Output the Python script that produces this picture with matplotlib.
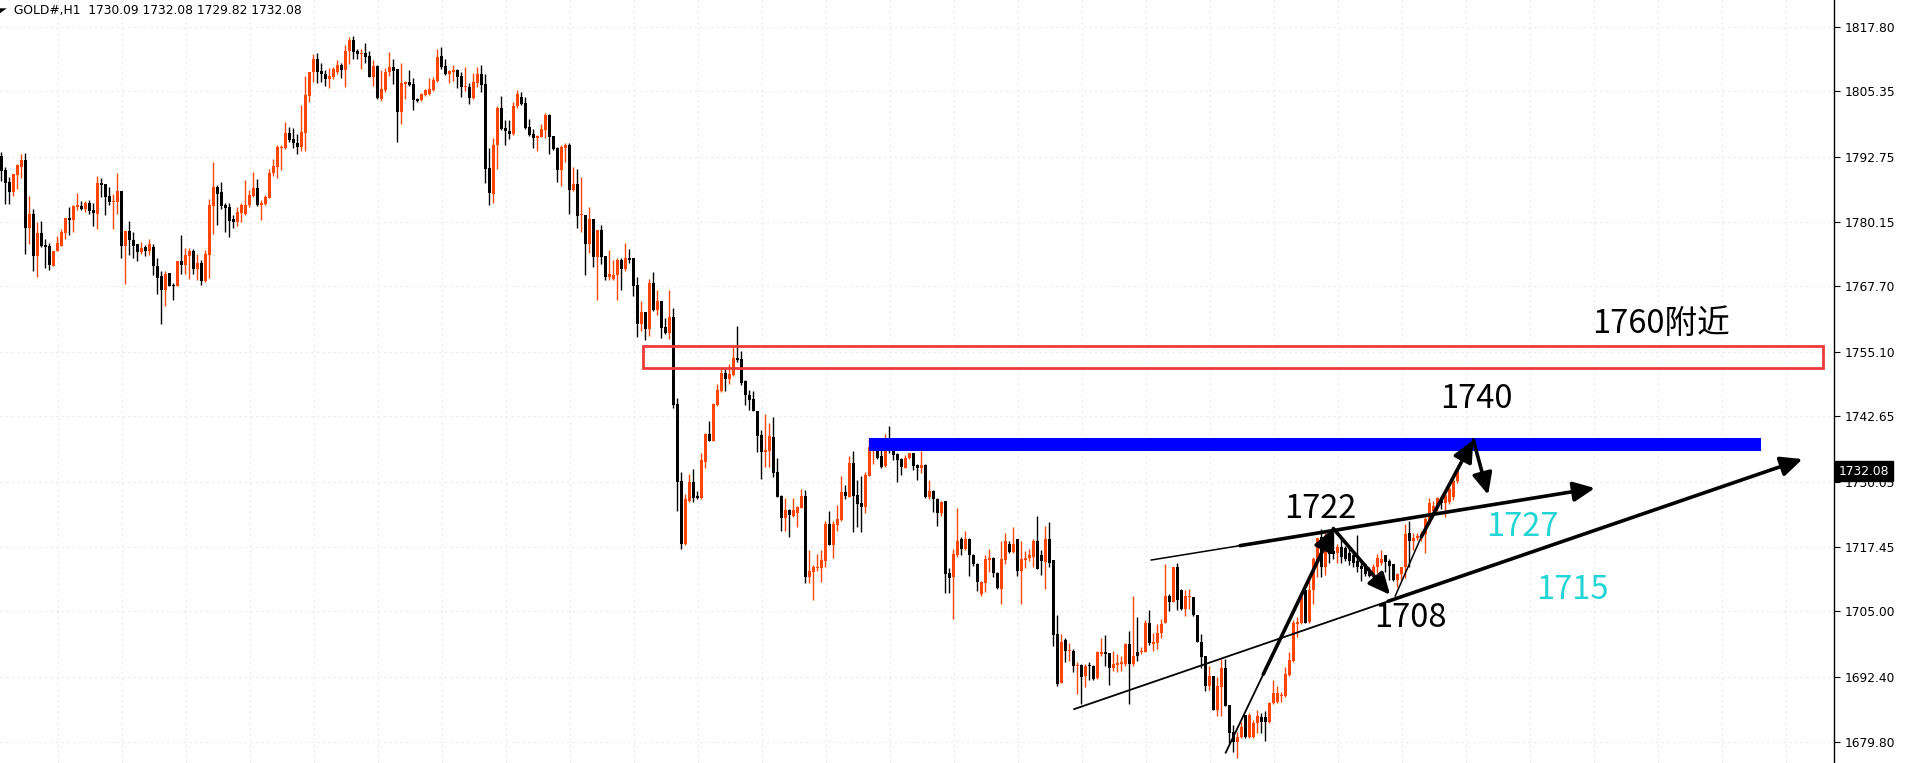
import matplotlib
matplotlib.use("Agg")
import matplotlib.pyplot as plt
from matplotlib.patches import Rectangle, FancyArrowPatch, Polygon
from matplotlib.transforms import blended_transform_factory
import numpy as np

# ---- hourly GOLD# bars (oldest first) ----
opens = [
    1792.9, 1790.2, 1787.9, 1785.9, 1789.3, 1790.8, 1792.1, 1779.0, 1781.7, 1773.5,
    1778.0, 1775.7, 1775.5, 1771.7, 1774.6, 1775.6, 1778.1, 1780.9, 1780.6, 1783.1,
    1783.3, 1782.6, 1783.8, 1782.4, 1781.7, 1787.7, 1787.5, 1785.1, 1784.0, 1784.0,
    1786.1, 1775.6, 1778.4, 1776.7, 1775.9, 1774.4, 1775.3, 1774.6, 1775.3, 1771.7,
    1769.7, 1767.1, 1770.3, 1768.0, 1767.8, 1772.6, 1771.9, 1773.6, 1774.5, 1771.0,
    1772.2, 1768.8, 1773.8, 1783.3, 1786.9, 1785.9, 1783.4, 1783.0, 1780.7, 1780.2,
    1781.9, 1781.7, 1783.4, 1785.2, 1786.7, 1783.5, 1783.6, 1784.8, 1789.5, 1790.8,
    1794.5, 1794.5, 1797.3, 1796.1, 1795.4, 1794.7, 1797.4, 1804.5, 1809.0, 1811.6,
    1809.3, 1808.7, 1807.8, 1808.2, 1809.1, 1810.4, 1809.5, 1813.1, 1815.2, 1813.1,
    1812.6, 1812.8, 1812.2, 1808.2, 1810.2, 1803.9, 1805.6, 1809.0, 1810.0, 1809.6,
    1801.4, 1806.8, 1807.1, 1806.8, 1803.9, 1803.7, 1804.6, 1804.8, 1805.6, 1807.3,
    1812.2, 1810.2, 1808.7, 1809.1, 1809.5, 1808.3, 1806.1, 1806.2, 1804.1, 1807.0,
    1808.7, 1806.8, 1790.5, 1785.6, 1794.9, 1802.1, 1798.3, 1797.7, 1797.2, 1802.5,
    1804.3, 1803.1, 1798.5, 1797.2, 1796.4, 1796.6, 1797.9, 1800.8, 1796.7, 1794.4,
    1790.2, 1794.5, 1795.0, 1786.4, 1787.5, 1781.4, 1781.5, 1775.8, 1780.8, 1773.3,
    1778.5, 1773.6, 1769.6, 1769.1, 1770.0, 1772.9, 1771.1, 1773.1, 1773.1, 1768.0,
    1760.5, 1762.8, 1759.4, 1768.4, 1763.2, 1764.8, 1759.8, 1758.8, 1761.9, 1745.0,
    1730.2, 1718.1, 1726.4, 1730.0, 1727.3, 1726.8, 1733.9, 1739.2, 1737.9, 1744.9,
    1747.6, 1751.0, 1749.9, 1750.7, 1753.9, 1753.7, 1749.5, 1746.8, 1745.9, 1743.7,
    1739.1, 1735.8, 1736.0, 1738.7, 1732.0, 1727.2, 1723.0, 1724.6, 1723.5, 1723.9,
    1725.0, 1727.3, 1711.7, 1712.7, 1713.3, 1713.4, 1714.8, 1721.9, 1717.9, 1721.7,
    1722.7, 1728.1, 1727.1, 1733.7, 1727.5, 1726.0, 1725.2, 1731.2, 1736.6, 1737.0,
    1734.9, 1733.1, 1737.6, 1736.8, 1735.3, 1734.5, 1732.7, 1734.7, 1735.5, 1733.3,
    1732.7, 1733.3, 1727.1, 1728.3, 1726.6, 1723.9, 1726.4, 1712.5, 1711.7, 1715.8,
    1718.9, 1717.1, 1719.0, 1715.8, 1714.2, 1708.4, 1710.4, 1715.0, 1715.4, 1712.5,
    1709.4, 1715.0, 1718.0, 1716.5, 1718.9, 1712.9, 1715.0, 1715.4, 1715.6, 1718.5,
    1715.9, 1714.6, 1718.9, 1714.9, 1700.7, 1691.1, 1699.4, 1697.4, 1697.4, 1694.4,
    1694.7, 1692.6, 1694.5, 1694.5, 1692.2, 1696.7, 1697.1, 1696.9, 1694.0, 1694.7,
    1694.9, 1694.9, 1698.8, 1694.9, 1697.2, 1697.1, 1697.2, 1702.8, 1698.8, 1699.0,
    1700.9, 1702.8, 1707.9, 1706.9, 1713.5, 1709.2, 1705.5, 1707.7, 1707.7, 1704.4,
    1699.2, 1696.5, 1690.7, 1692.6, 1685.9, 1690.5, 1694.0, 1687.0, 1681.8, 1679.9,
    1680.7, 1685.1, 1680.7, 1680.7, 1683.4, 1684.7, 1684.7, 1683.6, 1687.4, 1687.6,
    1688.6, 1688.6, 1692.8, 1695.5, 1702.6, 1702.8, 1709.1, 1703.0, 1709.2, 1715.0,
    1719.4, 1713.6, 1716.6, 1716.6, 1716.2, 1717.5, 1717.3, 1716.3, 1715.8, 1714.8,
    1713.8, 1714.0, 1712.7, 1712.1, 1713.5, 1714.4, 1715.8, 1714.8, 1714.2, 1711.1,
    1712.3, 1713.5, 1720.2, 1718.5, 1719.1, 1719.4, 1720.0, 1722.7, 1724.3, 1725.2,
    1726.8, 1726.0, 1726.2, 1727.0, 1730.09,
]
highs = [
    1793.6, 1790.8, 1788.9, 1789.4, 1791.3, 1793.3, 1793.4, 1785.1, 1782.6, 1780.2,
    1780.3, 1776.8, 1776.1, 1774.5, 1777.4, 1778.8, 1780.9, 1783.0, 1783.4, 1785.7,
    1784.2, 1784.2, 1784.4, 1783.8, 1789.0, 1788.6, 1787.5, 1786.9, 1785.5, 1789.6,
    1786.1, 1778.4, 1780.3, 1778.2, 1775.9, 1776.3, 1775.7, 1776.8, 1775.9, 1773.1,
    1770.7, 1770.6, 1770.3, 1768.4, 1772.6, 1777.6, 1775.2, 1775.2, 1775.0, 1774.0,
    1772.8, 1774.7, 1784.6, 1791.7, 1787.3, 1787.9, 1783.8, 1783.9, 1781.4, 1783.0,
    1783.8, 1788.3, 1786.4, 1789.8, 1788.4, 1784.4, 1785.4, 1790.4, 1792.2, 1795.0,
    1794.9, 1799.5, 1798.5, 1798.3, 1797.2, 1802.7, 1808.3, 1809.1, 1812.6, 1812.7,
    1810.8, 1809.5, 1809.9, 1810.0, 1811.4, 1810.9, 1814.3, 1815.8, 1816.0, 1813.6,
    1813.5, 1814.7, 1813.2, 1811.3, 1810.4, 1809.5, 1809.9, 1812.9, 1811.6, 1809.6,
    1810.8, 1807.3, 1809.4, 1807.9, 1804.1, 1805.0, 1805.8, 1807.9, 1808.1, 1813.5,
    1813.9, 1811.6, 1809.5, 1810.4, 1809.7, 1809.1, 1810.0, 1807.0, 1808.9, 1810.0,
    1810.4, 1808.7, 1794.4, 1796.3, 1802.5, 1804.4, 1799.8, 1799.8, 1803.3, 1805.6,
    1805.2, 1804.3, 1800.1, 1798.1, 1797.0, 1799.1, 1801.2, 1801.0, 1796.7, 1794.7,
    1795.0, 1795.3, 1795.4, 1790.7, 1790.4, 1788.9, 1781.5, 1783.1, 1780.8, 1778.5,
    1779.6, 1773.6, 1774.8, 1772.9, 1773.1, 1773.1, 1776.0, 1775.0, 1773.1, 1769.6,
    1764.8, 1762.8, 1769.2, 1770.4, 1767.1, 1764.8, 1761.7, 1767.1, 1763.6, 1746.2,
    1732.0, 1727.7, 1731.5, 1732.5, 1728.3, 1735.6, 1739.4, 1741.7, 1745.3, 1748.9,
    1752.0, 1751.8, 1752.8, 1756.1, 1760.1, 1755.3, 1749.7, 1747.8, 1747.6, 1743.7,
    1740.1, 1743.0, 1741.4, 1742.6, 1734.7, 1727.4, 1726.8, 1724.8, 1726.8, 1725.4,
    1728.7, 1728.5, 1716.9, 1713.9, 1716.0, 1716.9, 1722.5, 1724.4, 1722.5, 1725.6,
    1731.2, 1729.3, 1734.9, 1736.0, 1730.4, 1731.2, 1732.0, 1738.5, 1738.5, 1737.6,
    1738.0, 1739.3, 1740.7, 1737.2, 1735.6, 1734.7, 1735.1, 1735.6, 1735.6, 1733.5,
    1736.0, 1733.5, 1730.4, 1728.5, 1726.8, 1726.4, 1726.4, 1713.3, 1717.1, 1725.0,
    1719.4, 1720.6, 1719.2, 1716.0, 1714.4, 1710.8, 1715.8, 1717.1, 1715.6, 1712.7,
    1718.5, 1720.2, 1718.5, 1721.2, 1719.0, 1718.5, 1716.7, 1717.1, 1718.9, 1723.5,
    1716.9, 1721.4, 1722.2, 1714.9, 1704.3, 1700.7, 1699.8, 1699.0, 1697.8, 1695.3,
    1694.9, 1694.9, 1695.3, 1694.7, 1697.4, 1699.8, 1700.5, 1696.9, 1697.4, 1696.7,
    1696.5, 1699.0, 1701.3, 1707.9, 1704.0, 1698.2, 1703.4, 1705.3, 1700.9, 1702.5,
    1703.5, 1714.2, 1708.4, 1713.6, 1714.4, 1709.4, 1709.2, 1709.4, 1707.7, 1704.4,
    1700.7, 1696.5, 1694.5, 1692.6, 1692.4, 1695.9, 1695.9, 1687.0, 1683.0, 1681.8,
    1683.7, 1685.1, 1685.5, 1684.1, 1685.9, 1685.5, 1685.7, 1687.6, 1691.7, 1690.7,
    1689.5, 1694.3, 1697.2, 1703.4, 1704.0, 1707.9, 1709.2, 1711.7, 1715.6, 1719.2,
    1721.0, 1720.6, 1720.4, 1720.4, 1718.1, 1719.4, 1717.7, 1717.5, 1716.3, 1719.8,
    1714.8, 1714.4, 1713.6, 1714.2, 1716.0, 1716.9, 1715.8, 1715.2, 1714.2, 1712.5,
    1713.6, 1721.9, 1722.5, 1720.2, 1720.2, 1720.6, 1723.3, 1726.8, 1726.4, 1727.0,
    1727.2, 1727.8, 1729.0, 1730.5, 1732.08,
]
lows = [
    1788.1, 1783.7, 1783.7, 1785.1, 1786.6, 1788.7, 1774.0, 1775.8, 1770.7, 1769.6,
    1775.4, 1771.3, 1770.9, 1771.7, 1774.6, 1775.6, 1776.9, 1777.6, 1778.2, 1782.5,
    1782.5, 1782.1, 1781.7, 1779.4, 1778.8, 1785.0, 1781.4, 1783.4, 1778.8, 1781.7,
    1773.1, 1768.2, 1773.8, 1773.1, 1772.7, 1774.0, 1773.6, 1773.8, 1770.0, 1766.3,
    1760.5, 1764.0, 1767.7, 1765.0, 1767.7, 1770.2, 1770.2, 1769.2, 1770.2, 1769.0,
    1767.9, 1768.6, 1769.4, 1777.9, 1779.6, 1782.7, 1778.3, 1777.3, 1779.0, 1779.4,
    1780.2, 1781.4, 1783.1, 1785.0, 1783.3, 1780.6, 1783.4, 1784.8, 1789.1, 1788.7,
    1790.2, 1794.3, 1795.6, 1794.5, 1793.3, 1793.9, 1793.9, 1803.2, 1807.2, 1807.0,
    1807.2, 1806.4, 1806.0, 1807.8, 1808.6, 1808.0, 1806.2, 1810.7, 1811.5, 1811.5,
    1809.7, 1810.9, 1808.2, 1806.4, 1803.9, 1803.4, 1805.3, 1808.4, 1806.8, 1795.6,
    1799.1, 1803.9, 1806.4, 1801.8, 1803.2, 1803.5, 1804.4, 1804.6, 1805.4, 1807.1,
    1809.7, 1808.5, 1807.0, 1807.3, 1805.9, 1804.3, 1805.5, 1803.0, 1803.9, 1806.2,
    1805.2, 1787.7, 1783.4, 1783.9, 1790.4, 1797.9, 1795.0, 1796.2, 1797.0, 1802.2,
    1802.8, 1798.1, 1796.8, 1794.5, 1793.9, 1796.5, 1796.4, 1793.3, 1794.1, 1787.9,
    1787.1, 1791.8, 1781.6, 1786.2, 1779.0, 1778.3, 1770.0, 1774.2, 1771.5, 1765.1,
    1772.1, 1769.0, 1769.0, 1768.9, 1765.1, 1767.1, 1770.6, 1772.3, 1765.9, 1758.0,
    1759.2, 1757.4, 1758.2, 1763.0, 1762.1, 1757.7, 1758.6, 1757.6, 1744.3, 1724.4,
    1717.1, 1717.9, 1726.2, 1726.2, 1726.6, 1726.6, 1732.7, 1737.8, 1737.8, 1744.7,
    1747.4, 1747.6, 1748.9, 1750.5, 1753.2, 1748.6, 1744.9, 1743.9, 1743.6, 1735.8,
    1730.6, 1732.9, 1732.9, 1731.0, 1727.0, 1720.6, 1720.6, 1719.4, 1723.3, 1721.2,
    1725.0, 1710.4, 1710.4, 1707.3, 1712.9, 1710.6, 1713.6, 1717.8, 1715.4, 1720.6,
    1722.5, 1726.6, 1727.1, 1720.4, 1721.2, 1720.4, 1723.9, 1731.2, 1733.5, 1734.5,
    1732.7, 1732.9, 1735.6, 1734.3, 1730.0, 1731.4, 1732.7, 1734.5, 1732.2, 1730.4,
    1731.8, 1726.9, 1726.6, 1724.1, 1721.4, 1723.5, 1708.5, 1708.5, 1703.5, 1715.6,
    1715.8, 1716.9, 1711.9, 1713.8, 1709.0, 1708.0, 1708.8, 1712.7, 1711.7, 1709.4,
    1706.5, 1714.2, 1716.3, 1716.3, 1711.9, 1706.5, 1713.3, 1714.8, 1713.6, 1713.1,
    1712.1, 1709.4, 1713.6, 1698.4, 1690.6, 1691.1, 1695.3, 1695.5, 1693.4, 1689.0,
    1687.2, 1690.5, 1691.7, 1691.7, 1692.0, 1696.5, 1694.4, 1690.9, 1693.6, 1693.4,
    1693.6, 1694.5, 1687.2, 1694.5, 1695.5, 1696.7, 1697.1, 1698.6, 1697.4, 1697.8,
    1699.8, 1702.8, 1705.0, 1706.9, 1705.3, 1705.3, 1704.2, 1705.5, 1704.2, 1699.2,
    1694.0, 1689.7, 1689.9, 1685.9, 1684.9, 1684.9, 1686.8, 1679.6, 1677.8, 1676.8,
    1680.5, 1680.5, 1680.5, 1680.5, 1681.6, 1681.6, 1680.1, 1683.4, 1687.2, 1687.4,
    1687.6, 1688.4, 1692.6, 1695.3, 1700.1, 1702.6, 1702.8, 1702.8, 1706.4, 1711.7,
    1711.7, 1712.1, 1714.4, 1715.2, 1714.4, 1714.4, 1714.8, 1714.0, 1713.6, 1712.7,
    1710.8, 1711.9, 1711.7, 1711.9, 1712.5, 1714.0, 1712.7, 1711.1, 1710.9, 1709.8,
    1711.1, 1711.5, 1713.5, 1716.9, 1718.8, 1718.5, 1716.3, 1721.9, 1724.1, 1724.3,
    1724.8, 1723.3, 1725.8, 1726.5, 1729.82,
]
closes = [
    1790.0, 1787.7, 1785.9, 1789.4, 1791.1, 1792.1, 1779.0, 1781.7, 1773.5, 1778.0,
    1775.5, 1775.4, 1771.9, 1774.5, 1776.1, 1778.2, 1780.9, 1780.6, 1783.2, 1783.4,
    1782.6, 1783.8, 1782.3, 1781.9, 1787.7, 1787.3, 1785.0, 1784.0, 1784.2, 1786.1,
    1775.6, 1778.4, 1776.7, 1775.6, 1774.4, 1775.2, 1774.6, 1775.9, 1771.7, 1769.4,
    1767.1, 1770.1, 1767.8, 1767.8, 1772.6, 1771.9, 1773.8, 1774.5, 1771.1, 1772.2,
    1768.8, 1774.0, 1783.4, 1786.9, 1785.6, 1783.3, 1782.9, 1780.3, 1780.2, 1782.1,
    1783.4, 1783.4, 1785.3, 1786.7, 1783.5, 1783.9, 1785.0, 1789.6, 1791.0, 1794.6,
    1794.7, 1797.3, 1796.0, 1795.3, 1794.7, 1797.5, 1804.6, 1809.1, 1811.6, 1809.0,
    1808.6, 1807.8, 1808.3, 1809.7, 1810.4, 1809.5, 1813.1, 1815.2, 1813.0, 1812.6,
    1812.8, 1812.0, 1808.2, 1810.2, 1804.1, 1805.8, 1809.1, 1810.0, 1809.3, 1801.4,
    1806.9, 1807.1, 1806.6, 1803.7, 1803.5, 1804.8, 1805.6, 1805.8, 1807.5, 1812.0,
    1810.0, 1808.7, 1809.3, 1809.5, 1808.2, 1806.1, 1806.2, 1804.1, 1807.1, 1808.7,
    1806.6, 1790.4, 1785.7, 1795.0, 1802.1, 1798.1, 1797.6, 1797.2, 1802.5, 1804.8,
    1803.0, 1798.3, 1797.0, 1796.4, 1796.8, 1798.1, 1800.8, 1796.6, 1794.3, 1790.2,
    1794.7, 1794.9, 1786.4, 1787.5, 1781.2, 1781.5, 1775.8, 1780.8, 1773.3, 1778.5,
    1773.3, 1769.6, 1770.2, 1770.0, 1772.9, 1771.1, 1773.1, 1772.9, 1767.7, 1760.5,
    1762.8, 1759.4, 1768.4, 1763.2, 1764.8, 1759.6, 1758.8, 1761.9, 1744.9, 1730.0,
    1718.1, 1726.6, 1730.0, 1726.9, 1726.8, 1734.2, 1739.2, 1737.9, 1745.1, 1747.8,
    1751.0, 1749.9, 1750.9, 1753.9, 1753.5, 1749.1, 1746.8, 1745.7, 1743.6, 1738.9,
    1735.8, 1736.1, 1738.9, 1731.8, 1727.0, 1723.0, 1724.6, 1723.7, 1724.6, 1725.2,
    1727.3, 1711.7, 1712.9, 1713.5, 1713.6, 1715.0, 1721.9, 1717.9, 1721.9, 1722.9,
    1728.1, 1727.3, 1733.7, 1727.3, 1725.8, 1725.2, 1731.4, 1736.8, 1737.0, 1734.7,
    1732.9, 1738.3, 1736.6, 1735.1, 1734.3, 1732.9, 1734.7, 1735.5, 1733.1, 1732.7,
    1733.3, 1727.1, 1728.3, 1726.6, 1723.9, 1726.2, 1712.3, 1711.5, 1716.0, 1718.5,
    1717.1, 1719.0, 1715.8, 1714.2, 1710.6, 1710.6, 1715.2, 1715.4, 1712.5, 1709.6,
    1715.2, 1718.5, 1716.5, 1718.0, 1712.9, 1715.2, 1715.4, 1715.8, 1718.5, 1713.1,
    1714.8, 1718.9, 1714.4, 1700.5, 1691.0, 1699.2, 1697.4, 1697.6, 1694.4, 1694.7,
    1692.4, 1694.5, 1694.4, 1692.0, 1697.1, 1697.1, 1696.7, 1694.0, 1694.9, 1695.1,
    1695.3, 1698.8, 1694.9, 1696.5, 1696.5, 1697.4, 1702.8, 1699.0, 1699.2, 1700.9,
    1702.6, 1707.9, 1706.9, 1713.5, 1707.3, 1705.5, 1707.9, 1707.9, 1704.4, 1699.2,
    1696.3, 1690.7, 1692.6, 1685.9, 1690.7, 1694.0, 1686.8, 1681.6, 1679.9, 1680.8,
    1682.8, 1680.7, 1685.1, 1683.5, 1684.9, 1683.6, 1683.6, 1687.4, 1689.3, 1689.3,
    1688.8, 1693.0, 1695.7, 1702.8, 1703.0, 1707.7, 1702.8, 1709.2, 1715.2, 1719.1,
    1713.6, 1717.7, 1716.0, 1716.0, 1717.5, 1715.6, 1715.2, 1714.8, 1714.4, 1713.6,
    1713.1, 1712.3, 1711.9, 1713.6, 1715.4, 1715.2, 1714.6, 1713.8, 1711.1, 1712.3,
    1713.5, 1720.0, 1718.5, 1719.1, 1719.6, 1720.0, 1722.9, 1726.0, 1725.4, 1726.8,
    1726.0, 1727.4, 1728.7, 1730.1, 1732.08,
]

price_ticks = [1817.80, 1805.35, 1792.75, 1780.15, 1767.70, 1755.10,
               1742.65, 1730.05, 1717.45, 1705.00, 1692.40, 1679.80]
symbol = "GOLD#,H1"
last_bar = [1730.09, 1732.08, 1729.82, 1732.08]   # O H L C
last_price = 1732.08

zone_1760 = [1752.0, 1756.3]      # red resistance box
zone_1740 = [1736.0, 1738.4]      # blue band
level_labels = ["1760附近", "1740", "1722", "1708", "1727", "1715"]

# ---- figure ----
W, H = 1908, 763
fig = plt.figure(figsize=(W / 100, H / 100), dpi=100)
fig.patch.set_facecolor("white")
AX_RIGHT = 1834
ax = fig.add_axes([0, 0, AX_RIGHT / W, 1])
ax.set_xlim(-0.33, 458.17)
ax.set_ylim(1675.76, 1822.97)

o = np.array(opens); h = np.array(highs); l = np.array(lows); c = np.array(closes)
assert len(o) == len(h) == len(l) == len(c)
x = np.arange(len(o))
BULL, BEAR = "#ff4500", "#000000"
cols = np.where(c >= o, BULL, BEAR)

# grid
for p in price_ticks:
    ax.axhline(p, color="#ebebeb", lw=0.8, ls=(0, (2, 3)), zorder=0)
for gx in np.arange(14.1, 459, 16):
    ax.axvline(gx, color="#ebebeb", lw=0.8, ls=(0, (2, 3)), zorder=0)

# candles
ax.vlines(x, l, h, colors=cols, lw=1.0, zorder=2)
bottoms = np.minimum(o, c)
heights = np.maximum(np.abs(c - o), 0.2)
ax.bar(x, heights, bottom=bottoms, width=0.78, color=cols, lw=0, zorder=3)

# zones
ax.add_patch(Rectangle((160.5, zone_1760[0]), 455.3 - 160.5, zone_1760[1] - zone_1760[0],
                       fill=False, ec="#ee3a3a", lw=2.0, zorder=5, clip_on=False))
ax.add_patch(Rectangle((217.0, zone_1740[0]), 439.9 - 217.0, zone_1740[1] - zone_1740[0],
                       fc="#0000ff", ec="none", zorder=5))

THIN, THICK = 1.1, 2.6


def seg(p0, p1, lw):
    ax.plot([p0[0], p1[0]], [p0[1], p1[1]], color="black", lw=lw,
            solid_capstyle="butt", zorder=6)


def arrow(p0, p1, lw=THICK):
    a = FancyArrowPatch(p0, p1, arrowstyle="-|>,head_length=13,head_width=6",
                        mutation_scale=1, color="black", lw=lw,
                        shrinkA=0, shrinkB=0, zorder=7)
    ax.add_patch(a)


# upper channel line -> arrow to the right
seg((287.3, 1714.9), (309.7, 1717.7), THIN)
arrow((309.7, 1717.7), (398.4, 1728.8))
# lower channel line -> arrow to the right
seg((268.0, 1686.1), (346.7, 1706.96), 1.3)
arrow((346.7, 1706.96), (450.3, 1734.4))
# swing path low -> 1722 -> 1708 -> 1740 -> back down
seg((306.0, 1677.6), (316.0, 1693.7), 1.3)
arrow((315.5, 1692.9), (333.0, 1721.0))
arrow((333.0, 1721.0), (347.2, 1708.2))
seg((348.4, 1707.85), (355.4, 1720.1), THIN)
arrow((355.0, 1719.4), (368.0, 1738.1))
arrow((368.0, 1738.1), (371.7, 1727.5))

# level labels
cjk = ["Noto Sans CJK SC", "DejaVu Sans"]
FS = 23.5
ax.text(414.9, 1758.8, level_labels[0], fontsize=FS, family=cjk, ha="center", va="baseline", zorder=8)
ax.text(368.8, 1744.2, level_labels[1], fontsize=FS, family=cjk, ha="center", va="baseline", zorder=8)
ax.text(329.7, 1723.0, level_labels[2], fontsize=FS, family=cjk, ha="center", va="baseline", zorder=8)
ax.text(352.2, 1702.05, level_labels[3], fontsize=FS, family=cjk, ha="center", va="baseline", zorder=5)
ax.text(380.3, 1719.6, level_labels[4], fontsize=FS, family=cjk, color="#22d4d4", ha="center", va="baseline", zorder=8)
ax.text(392.8, 1707.4, level_labels[5], fontsize=FS, family=cjk, color="#22d4d4", ha="center", va="baseline", zorder=8)

# axes styling: price scale on the right
for s in ("top", "left", "bottom"):
    ax.spines[s].set_visible(False)
ax.spines["right"].set_color("black")
ax.spines["right"].set_linewidth(1.0)
ax.set_xticks([])
ax.yaxis.tick_right()
ax.set_yticks(price_ticks)
ax.set_yticklabels([f"{p:.2f}" for p in price_ticks])
ax.tick_params(axis="y", length=4, width=0.8, pad=4, labelsize=8.8, colors="black")

# current price marker
tr = blended_transform_factory(ax.transAxes, ax.transData)
ax.text(1.0 + 5 / AX_RIGHT, last_price, f"{last_price:.2f}", transform=tr,
        fontsize=8.8, color="white", ha="left", va="center", zorder=10, clip_on=False,
        bbox=dict(boxstyle="square,pad=0.3", fc="black", ec="black"))

# header
fig.text(14 / W, 1 - 10.5 / H, f"{symbol}  " + " ".join(f"{v:.2f}" for v in last_bar),
         fontsize=8.8, ha="left", va="center", color="black")
tri = Polygon([[0, 1 - 8.3 / H], [6.7 / W, 1 - 8.3 / H], [0, 1 - 13.3 / H]],
              closed=True, transform=fig.transFigure, fc="black", ec="none")
fig.patches.append(tri)

fig.savefig("out.png", dpi=100)
